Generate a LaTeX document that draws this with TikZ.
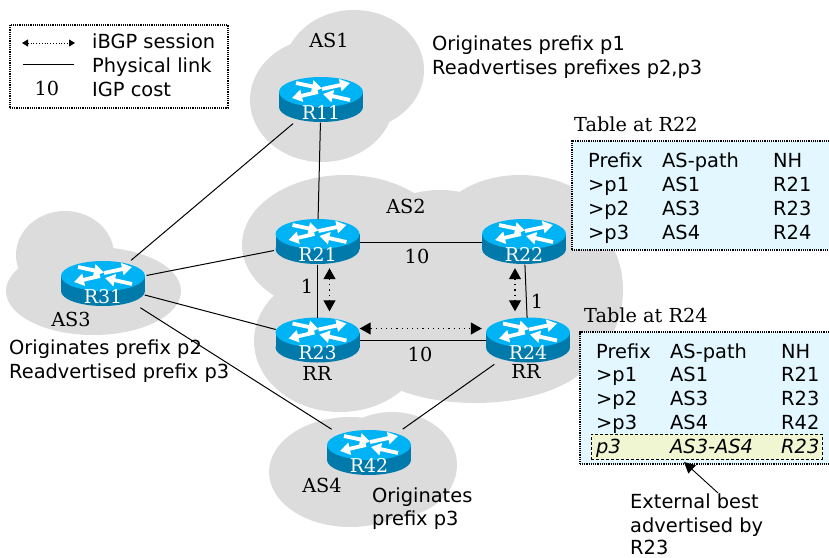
\documentclass[tikz,border=0pt]{standalone}
\usepackage{fontspec}
\setmainfont{DejaVu Sans}
\newfontfamily\serifface{DejaVu Serif}
\usetikzlibrary{arrows.meta,shapes.geometric}
\definecolor{cloudgray}{HTML}{DCDCDC}
\definecolor{routertop}{HTML}{00B3F5}
\definecolor{routerside}{HTML}{007AAA}
\definecolor{tableblue}{HTML}{E2F7FF}
\definecolor{rowyellow}{HTML}{F1F6D2}
\tikzset{
  link/.style={line width=1pt,draw=black},
  session/.style={line width=1.1pt,dash pattern=on 1.2pt off 4pt,{Triangle[width=12pt,length=11pt]}-{Triangle[width=12pt,length=11pt]},shorten <=3.5pt,shorten >=6.5pt},
  router/.style={ellipse,minimum width=84pt,minimum height=45pt,inner sep=0pt},
  routername/.style={text=white,anchor=base,font=\serifface\fontsize{19}{20}\selectfont,inner sep=0pt},
  plain/.style={anchor=base west,inner sep=0pt,font=\fontsize{19.4}{22}\selectfont},
  serif/.style={anchor=base,inner sep=0pt,font=\serifface\fontsize{19.3}{22}\selectfont},
  box/.style={draw=black,dash pattern=on 1.2pt off 1pt,line width=1.5pt},
  flow/.style={white,line width=3.8pt,-{Triangle[width=12pt,length=10pt]}}
}
\newcommand{\Router}[2]{
  \begin{scope}[shift={(#2)}]
    \fill[routerside] (0,7) ellipse[x radius=42,y radius=15];
    \fill[routerside] (-42,-8) rectangle (42,7);
    \fill[routertop] (0,-8) ellipse[x radius=42,y radius=15];
    \draw[flow] (-25,-17) -- (1,-11.5);
    \draw[flow] (1,-11) -- (29,-17);
    \draw[flow] (-3,-8) -- (-29,-2);
    \draw[flow] (29,0) -- (2,-6);
    \node[router] (#1) at (0,0) {};
    \node[routername] (#1-name) at (0,19) {#1};
  \end{scope}
}
\newcommand{\TableRow}[5]{
  \node[plain] (#1-prefix) at (0,#2) {#3};
  \node[plain] (#1-path) at (74,#2) {#4};
  \node[plain] (#1-nh) at (185,#2) {#5};
}
\begin{document}
\begin{tikzpicture}[x=1pt,y=-1pt]
  \useasboundingbox (0,0) rectangle (829,557);
  \begin{scope}[cloudgray]
    \fill (322,100) ellipse[x radius=72,y radius=62];
    \fill (354,70) ellipse[x radius=70,y radius=60];
    \fill (345,245) ellipse[x radius=103,y radius=70];
    \fill (340,341) ellipse[x radius=86,y radius=71];
    \fill (475,340) ellipse[x radius=125,y radius=63];
    \fill (540,290) ellipse[x radius=83,y radius=90];
    \fill (520,240) ellipse[x radius=90,y radius=65];
    \fill (440,250) ellipse[x radius=80,y radius=60];
    \fill (430,290) ellipse[x radius=110,y radius=90];
    \fill (65,255) ellipse[x radius=49,y radius=44];
    \fill (93.5,291) ellipse[x radius=87.5,y radius=44];
    \fill (350,472) ellipse[x radius=81,y radius=55];
    \fill (392,465) ellipse[x radius=65,y radius=53];
  \end{scope}

  \Router{R11}{321,100}
  \Router{R21}{317.5,242}
  \Router{R22}{524,242}
  \Router{R23}{317.5,340.5}
  \Router{R24}{528,340.5}
  \Router{R31}{103,284}
  \Router{R42}{369,453}

  \draw[link] (R11) -- (R21);
  \draw[link,shorten >=7pt,shorten <=7pt] (R11) -- (R31);
  \draw[link,shorten >=4pt,shorten <=4pt] (R31) -- (R21);
  \draw[link,shorten >=4pt,shorten <=4pt] (R31) -- (R23);
  \draw[link,shorten >=12pt,shorten <=12pt] (R31) -- (R42);
  \draw[link] (R21) -- (R22);
  \draw[link] (R21) -- (R23);
  \draw[link] (R22) -- (R24);
  \draw[link] (R23) -- (R24);
  \draw[link,shorten >=10pt,shorten <=10pt] (R24) -- (R42);
  \draw[session] ([xshift=12pt]R21.south) -- ([xshift=12pt]R23.north);
  \draw[session] ([xshift=-9pt]R22.south) -- ([xshift=-13pt]R24.north);
  \draw[session,shorten <=0pt,shorten >=4pt] ([yshift=12pt]R23.east) -- ([yshift=12pt]R24.west);

  \node[serif] (as1) at (329,47) {AS1};
  \node[serif] (as2) at (406,213) {AS2};
  \node[serif] (as3) at (71,326) {AS3};
  \node[serif] (as4) at (322,492) {AS4};
  \node[serif] (rr23) at (317,380) {RR};
  \node[serif] (rr24) at (526,378) {RR};
  \node[serif] (cost2123) at (307,293) {1};
  \node[serif] (cost2224) at (537,308) {1};
  \node[serif] (cost2122) at (417,263) {10};
  \node[serif] (cost2324) at (420,361) {10};

  \node[plain] (orig1) at (432,50) {Originates prefix p1};
  \node[plain] (read1) at (432,74) {Readvertises prefixes p2,p3};
  \node[plain] (orig3) at (9,354) {Originates prefix p2};
  \node[plain] (read3) at (9,378) {Readvertised prefix p3};
  \node[plain] (orig4) at (372,502) {Originates};
  \node[plain] (pref4) at (372,525) {prefix p3};

  \begin{scope}[shift={(9,24)}]
    \node[box,fill=white,minimum width=218pt,minimum height=83pt,anchor=north west] (legend) at (0,0) {};
    \coordinate (legA) at (13,19);
    \coordinate (legB) at (66,19);
    \coordinate (legC) at (14,40);
    \coordinate (legD) at (65,40);
    \draw[dash pattern=on .8pt off 2pt,line width=.8pt,{Triangle[width=7pt,length=6pt]}-{Triangle[width=7pt,length=6pt]}] (legA) -- (legB);
    \draw[line width=.7pt] (legC) -- (legD);
    \node[serif] (legten) at (38,71) {10};
    \node[plain] (legibgp) at (83,24) {iBGP session};
    \node[plain] (legphys) at (83,48) {Physical link};
    \node[plain] (legigp) at (83,72) {IGP cost};
  \end{scope}

  \node[serif,anchor=base west] (title22) at (574,131) {Table at R22};
  \begin{scope}[shift={(571,140)}]
    \node[box,fill=tableblue,minimum width=258pt,minimum height=109pt,anchor=north west] (table22) at (0,0) {};
    \begin{scope}[xshift=17pt]
      \TableRow{headA}{27}{Prefix}{AS-path}{NH}
      \TableRow{rowAa}{51}{>p1}{AS1}{R21}
      \TableRow{rowAb}{75}{>p2}{AS3}{R23}
      \TableRow{rowAc}{99}{>p3}{AS4}{R24}
    \end{scope}
  \end{scope}

  \node[serif,anchor=base west] (title24) at (584,322) {Table at R24};
  \begin{scope}[shift={(579,331)}]
    \node[box,fill=tableblue,minimum width=250pt,minimum height=132pt,anchor=north west] (table24) at (0,0) {};
    \node[draw=black,densely dashed,line width=.7pt,fill=rowyellow,minimum width=231pt,minimum height=25pt,anchor=north west] (bestrow) at (12,103) {};
    \begin{scope}[xshift=17pt]
      \TableRow{headB}{27}{Prefix}{AS-path}{NH}
      \TableRow{rowBa}{50}{>p1}{AS1}{R21}
      \TableRow{rowBb}{74}{>p2}{AS3}{R23}
      \TableRow{rowBc}{98}{>p3}{AS4}{R42}
      \TableRow{rowBd}{122}{\itshape p3}{\itshape AS3-AS4}{\itshape R23}
    \end{scope}
  \end{scope}

  \node[plain] (ext1) at (630,508) {External best};
  \node[plain] (ext2) at (630,532) {advertised by};
  \node[plain] (ext3) at (630,554) {R23};
  \coordinate (extfoot) at (718,493);
  \coordinate (exttip) at (684,462);
  \draw[line width=.9pt,-{Triangle[width=11pt,length=11pt]}] (extfoot) -- (exttip);
\end{tikzpicture}
\end{document}
